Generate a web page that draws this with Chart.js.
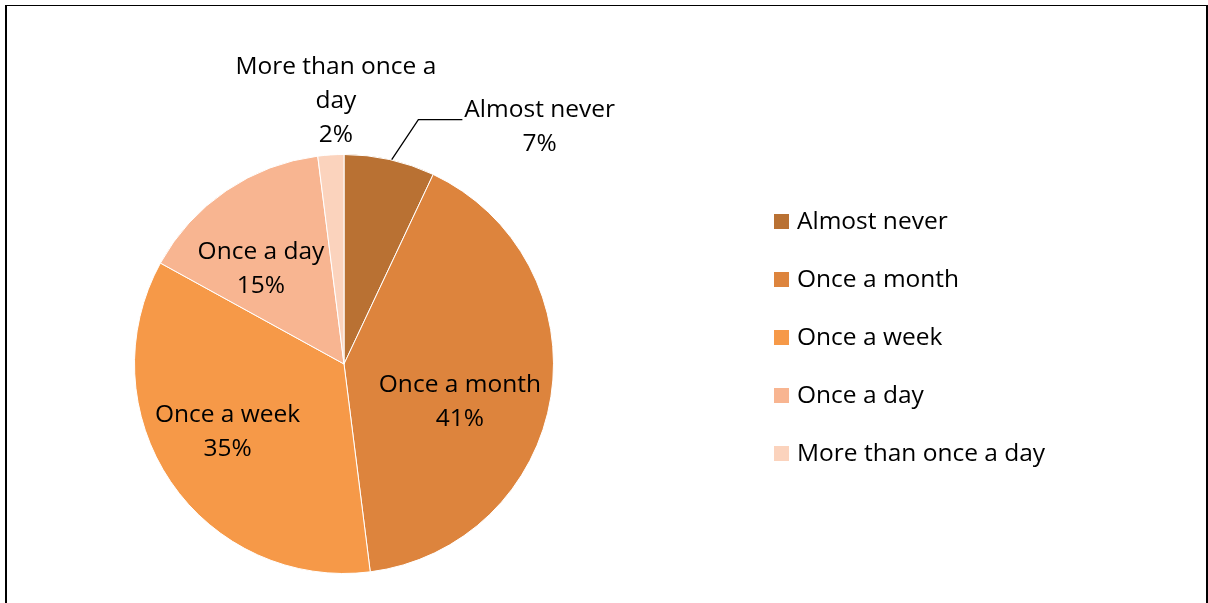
<!DOCTYPE html>
<html>
<head>
<meta charset="utf-8">
<script src="https://cdn.jsdelivr.net/npm/chart.js@4"></script>
<style>
  html, body { margin: 0; padding: 0; background: #fff; }
  #wrap { position: relative; width: 1208px; height: 603px; }
  #frame {
    position: absolute; left: 5px; top: 5px; width: 1199px; height: 620px;
    border-top: 1px solid #000; border-left: 2px solid #000; border-right: 2px solid #000;
  }
  canvas { position: absolute; left: 0; top: 0; }
</style>
</head>
<body>
<div id="wrap">
  <div id="frame"></div>
  <canvas id="chart" width="1208" height="603"></canvas>
</div>
<script>
var categories = ["Almost never", "Once a month", "Once a week", "Once a day", "More than once a day"];
var shares = [7, 41, 35, 15, 2];
var sliceColors = ["#B97133", "#DD843D", "#F69948", "#F8B591", "#FBD3BD"];
// label text lines shown on the pie (category wrapped as in the chart)
var labelLines = [
    ["Almost never"],
    ["Once a month"],
    ["Once a week"],
    ["Once a day"],
    ["More than once a", "day"]
];

var FONT = "24.5px 'Open Sans', Lato, sans-serif";
var LINE_H = 34;

// where each label sits: inside at a fraction of the radius, or outside near the rim
var labelPlace = [
    { outside: true, dx: 150, dy: -33, leader: true },
    { r: 0.56, dx: 0, dy: 20 },
    { r: 0.62, dx: -9, dy: -5 },
    { r: 0.62, dx: -10, dy: 12 },
    { outside: true, dx: 5, dy: -54 }
];

var pieLabels = {
    id: 'pieLabels',
    afterDatasetsDraw: function (chart) {
        var ctx = chart.ctx;
        var meta = chart.getDatasetMeta(0);
        ctx.save();
        ctx.font = FONT;
        ctx.fillStyle = "#000";
        ctx.textAlign = "center";
        ctx.textBaseline = "middle";
        meta.data.forEach(function (arc, i) {
            var p = arc.getProps(['x', 'y', 'startAngle', 'endAngle', 'outerRadius'], true);
            var mid = (p.startAngle + p.endAngle) / 2;
            var place = labelPlace[i];
            var lines = labelLines[i].concat([shares[i] + "%"]);
            var cx, cy;
            if (place.outside) {
                var ox = p.x + Math.cos(mid) * p.outerRadius;
                var oy = p.y + Math.sin(mid) * p.outerRadius;
                cx = ox + place.dx;
                cy = oy + place.dy;
                if (place.leader) {
                    var tw = ctx.measureText(lines[0]).width;
                    var lineY = cy - LINE_H / 2 + 10;
                    var endX = cx - tw / 2 - 2;
                    ctx.strokeStyle = "#000";
                    ctx.lineWidth = 1.3;
                    ctx.beginPath();
                    ctx.moveTo(ox + 2, oy);
                    ctx.lineTo(endX - 44, lineY);
                    ctx.lineTo(endX, lineY);
                    ctx.stroke();
                }
            } else {
                cx = p.x + Math.cos(mid) * p.outerRadius * place.r + place.dx;
                cy = p.y + Math.sin(mid) * p.outerRadius * place.r + place.dy;
            }
            var top = cy - (lines.length - 1) * LINE_H / 2;
            lines.forEach(function (t, k) {
                ctx.fillText(t, cx, top + k * LINE_H);
            });
        });

        // legend on the right
        var lx = 774, ly = 221;
        ctx.textAlign = "left";
        categories.forEach(function (name, i) {
            var y = ly + i * 58;
            ctx.fillStyle = sliceColors[i];
            ctx.fillRect(lx, y - 7, 15, 15);
            ctx.fillStyle = "#000";
            ctx.fillText(name, lx + 23, y + 1);
        });
        ctx.restore();
    }
};

new Chart(document.getElementById('chart').getContext('2d'), {
    type: 'pie',
    data: {
        labels: categories,
        datasets: [{
            data: shares,
            backgroundColor: sliceColors,
            borderColor: "#ffffff",
            borderWidth: 1
        }]
    },
    options: {
        responsive: false,
        animation: false,
        layout: {
            padding: { left: 134, right: 654, top: 154, bottom: 29 }
        },
        plugins: {
            legend: { display: false },
            tooltip: { enabled: false }
        }
    },
    plugins: [pieLabels]
});
</script>
</body>
</html>
